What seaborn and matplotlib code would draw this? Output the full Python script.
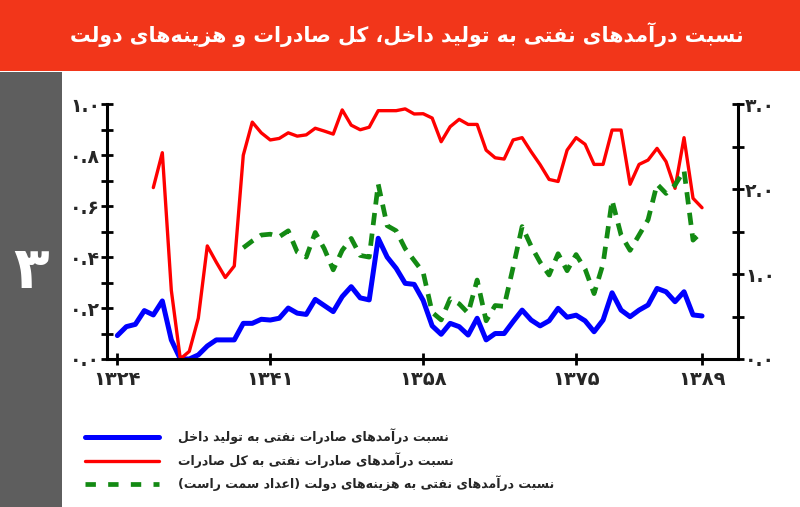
import numpy as np
import pandas as pd
import matplotlib
matplotlib.use("Agg")
import matplotlib.pyplot as plt
from matplotlib.patches import Rectangle
from matplotlib.lines import Line2D
import seaborn as sns

# ---------------- data ----------------
years = list(range(1324, 1390))

gdp_ratio = [0.092, 0.127, 0.136, 0.19, 0.173, 0.228, 0.075, 0.0, 0.0, 0.016,
             0.051, 0.075, 0.075, 0.075, 0.14, 0.14, 0.156, 0.153, 0.16, 0.20,
             0.18, 0.175, 0.234, 0.21, 0.186, 0.245, 0.284, 0.24, 0.232, 0.474,
             0.40, 0.356, 0.297, 0.293, 0.23, 0.13, 0.097, 0.14, 0.127, 0.094,
             0.16, 0.075, 0.10, 0.10, 0.147, 0.192, 0.153, 0.13, 0.15, 0.199,
             0.164, 0.172, 0.15, 0.107, 0.153, 0.26, 0.192, 0.166, 0.192, 0.212,
             0.277, 0.264, 0.225, 0.264, 0.173, 0.169]

export_ratio = [np.nan, np.nan, np.nan, np.nan, 0.673, 0.81, 0.27, 0.0, 0.03, 0.16,
                0.444, 0.38, 0.32, 0.365, 0.80, 0.93, 0.888, 0.86, 0.866, 0.888,
                0.875, 0.88, 0.906, 0.895, 0.883, 0.978, 0.918, 0.90, 0.91, 0.975,
                0.975, 0.975, 0.982, 0.962, 0.963, 0.946, 0.853, 0.912, 0.941, 0.921,
                0.921, 0.82, 0.79, 0.785, 0.86, 0.869, 0.814, 0.763, 0.705, 0.697,
                0.82, 0.869, 0.843, 0.764, 0.764, 0.899, 0.899, 0.686, 0.764, 0.781,
                0.827, 0.775, 0.67, 0.869, 0.631, 0.594]

spend_ratio = [np.nan] * 14 + [
               1.31, 1.39, 1.46, 1.47, 1.44, 1.51,
               1.26, 1.20, 1.49, 1.30, 1.05, 1.28, 1.42, 1.22, 1.20, 2.06,
               1.57, 1.51, 1.30, 1.16, 1.02, 0.55, 0.46, 0.71, 0.65, 0.54,
               0.93, 0.45, 0.63, 0.62, 1.08, 1.56, 1.33, 1.14, 0.99, 1.24,
               1.04, 1.23, 1.06, 0.77, 1.12, 1.87, 1.46, 1.28, 1.46, 1.64,
               2.06, 1.95, 2.05, 2.22, 1.40, 1.50]

xtick_pos = [1324, 1341, 1358, 1375, 1389]
xtick_labels = ['۱۳۲۴', '۱۳۴۱', '۱۳۵۸', '۱۳۷۵', '۱۳۸۹']
ytick_left = [0.0, 0.2, 0.4, 0.6, 0.8, 1.0]
ytick_left_labels = ['۰.۰', '۰.۲', '۰.۴', '۰.۶', '۰.۸', '۱.۰']
ytick_right = [0.0, 1.0, 2.0, 3.0]
ytick_right_labels = ['۰.۰', '۱.۰', '۲.۰', '۳.۰']

title = 'نسبت درآمدهای نفتی به تولید داخل، کل صادرات و هزینه‌های دولت'
labels = ['نسبت درآمدهای صادرات نفتی به تولید داخل',
          'نسبت درآمدهای صادرات نفتی به کل صادرات',
          'نسبت درآمدهای نفتی به هزینه‌های دولت (اعداد سمت راست)']
side_number = '۳'

# ---------------- Persian shaping (presentation forms + RTL order) ----------------
FORMS = {
    '\u0627': ('\uFE8D', '\uFE8E', None, None),
    '\u0622': ('\uFE81', '\uFE82', None, None),
    '\u0628': ('\uFE8F', '\uFE90', '\uFE91', '\uFE92'),
    '\u067E': ('\uFB56', '\uFB57', '\uFB58', '\uFB59'),
    '\u062A': ('\uFE95', '\uFE96', '\uFE97', '\uFE98'),
    '\u062E': ('\uFEA5', '\uFEA6', '\uFEA7', '\uFEA8'),
    '\u062F': ('\uFEA9', '\uFEAA', None, None),
    '\u0631': ('\uFEAD', '\uFEAE', None, None),
    '\u0632': ('\uFEAF', '\uFEB0', None, None),
    '\u0633': ('\uFEB1', '\uFEB2', '\uFEB3', '\uFEB4'),
    '\u0635': ('\uFEB9', '\uFEBA', '\uFEBB', '\uFEBC'),
    '\u0639': ('\uFEC9', '\uFECA', '\uFECB', '\uFECC'),
    '\u0641': ('\uFED1', '\uFED2', '\uFED3', '\uFED4'),
    '\u0642': ('\uFED5', '\uFED6', '\uFED7', '\uFED8'),
    '\u0644': ('\uFEDD', '\uFEDE', '\uFEDF', '\uFEE0'),
    '\u0645': ('\uFEE1', '\uFEE2', '\uFEE3', '\uFEE4'),
    '\u0646': ('\uFEE5', '\uFEE6', '\uFEE7', '\uFEE8'),
    '\u0647': ('\uFEE9', '\uFEEA', '\uFEEB', '\uFEEC'),
    '\u0648': ('\uFEED', '\uFEEE', None, None),
    '\u06CC': ('\uFBFC', '\uFBFD', '\uFBFE', '\uFBFF'),
    '\u064A': ('\uFEF1', '\uFEF2', '\uFEF3', '\uFEF4'),
    '\u06A9': ('\uFB8E', '\uFB8F', '\uFB90', '\uFB91'),
    '\u06AF': ('\uFB92', '\uFB93', '\uFB94', '\uFB95'),
}


def fa(s):
    ch = list(s)
    out = []
    for i, c in enumerate(ch):
        if c not in FORMS:
            out.append(c)
            continue
        f = FORMS[c]
        prev = ch[i - 1] if i > 0 else None
        nxt = ch[i + 1] if i < len(ch) - 1 else None
        jp = prev in FORMS and FORMS[prev][2] is not None
        jn = f[2] is not None and nxt in FORMS
        if jp and jn:
            g = f[3]
        elif jp:
            g = f[1]
        elif jn:
            g = f[2]
        else:
            g = f[0]
        out.append(g)
    res = [c for c in out if c != '\u200c']
    mirror = {'(': ')', ')': '('}
    return ''.join(mirror.get(c, c) for c in reversed(res))


# ---------------- figure ----------------
sns.set_style('white')
plt.rcParams['font.family'] = ['DejaVu Sans']
plt.rcParams['font.weight'] = 'bold'

fig = plt.figure(figsize=(8.0, 5.07), dpi=100)
fig.patch.set_facecolor('white')

# header band and side panel
fig.patches.append(Rectangle((0, 1 - 71 / 507), 1, 71 / 507, transform=fig.transFigure,
                             facecolor='#F2361A', edgecolor='none', zorder=0))
fig.patches.append(Rectangle((0, 0), 62 / 800, 1 - 72 / 507, transform=fig.transFigure,
                             facecolor='#5E5E5E', edgecolor='none', zorder=0))
fig.text(407 / 800, 1 - 35 / 507, fa(title), color='white', fontsize=14.8, fontweight='bold',
         ha='center', va='center')
fig.text(31 / 800, 1 - 272 / 507, side_number, color='white', fontsize=42,
         fontweight='bold', ha='center', va='center')

ax = fig.add_axes([107 / 800, 148 / 507, 631 / 800, (359 - 104.3) / 507])
ax2 = ax.twinx()

df = pd.DataFrame({'year': years, 'gdp': gdp_ratio, 'exp': export_ratio, 'spend': spend_ratio})

blue = '#0000FF'
red = '#FF0000'
green = '#138A13'

sns.lineplot(data=df, x='year', y='gdp', ax=ax, color=blue, linewidth=3.6, estimator=None)
sns.lineplot(data=df, x='year', y='exp', ax=ax, color=red, linewidth=2.4, estimator=None)
sns.lineplot(data=df, x='year', y='spend', ax=ax2, color=green, linewidth=3.4,
             estimator=None, dashes=False)
for ln in ax2.get_lines():
    ln.set_dashes([2.6, 1.8])

ax.set_xlim(1322.85, 1393.0)
ax.set_ylim(0, 1.0)
ax2.set_ylim(0, 3.0)

ax.set_xlabel('')
ax.set_ylabel('')
ax2.set_ylabel('')

ax.set_xticks(xtick_pos)
ax.set_xticklabels(xtick_labels)
ax.set_yticks(ytick_left)
ax.set_yticklabels(ytick_left_labels)
ax.set_yticks([0.1, 0.3, 0.5, 0.7, 0.9], minor=True)
ax2.set_yticks(ytick_right)
ax2.set_yticklabels(ytick_right_labels)
ax2.set_yticks([0.5, 1.5, 2.5], minor=True)

for a in (ax, ax2):
    for s in a.spines.values():
        s.set_linewidth(2.2)
        s.set_color('black')
    a.spines['top'].set_visible(False)
ax.spines['right'].set_visible(False)
ax2.spines['left'].set_visible(False)
ax2.spines['bottom'].set_visible(False)

ax.tick_params(axis='both', which='both', direction='inout', length=8, width=2,
               color='black', labelsize=13.5, pad=1)
ax.tick_params(axis='y', which='both', left=True, right=False)
ax.tick_params(axis='x', which='major', bottom=True, labelsize=14, pad=4)
ax2.tick_params(axis='y', which='both', direction='inout', length=8, width=2,
                color='black', labelsize=13.5, right=True, pad=1)
for t in ax.get_xticklabels() + ax.get_yticklabels() + ax2.get_yticklabels():
    t.set_fontweight('bold')

ax.set_facecolor('none')
ax2.set_facecolor('none')

handles = [Line2D([], [], color=blue, linewidth=3.6),
           Line2D([], [], color=red, linewidth=2.4),
           Line2D([], [], color=green, linewidth=3.4, dashes=[2.2, 2.6])]
leg = fig.legend(handles, [fa(l) for l in labels], loc='center left',
                 bbox_to_anchor=(85 / 800, 1 - 460 / 507), frameon=False,
                 fontsize=9, handlelength=5.9, handletextpad=1.5, labelspacing=0.62,
                 borderpad=0, borderaxespad=0)
for t in leg.get_texts():
    t.set_fontweight('bold')

fig.savefig('out.png', dpi=100)
